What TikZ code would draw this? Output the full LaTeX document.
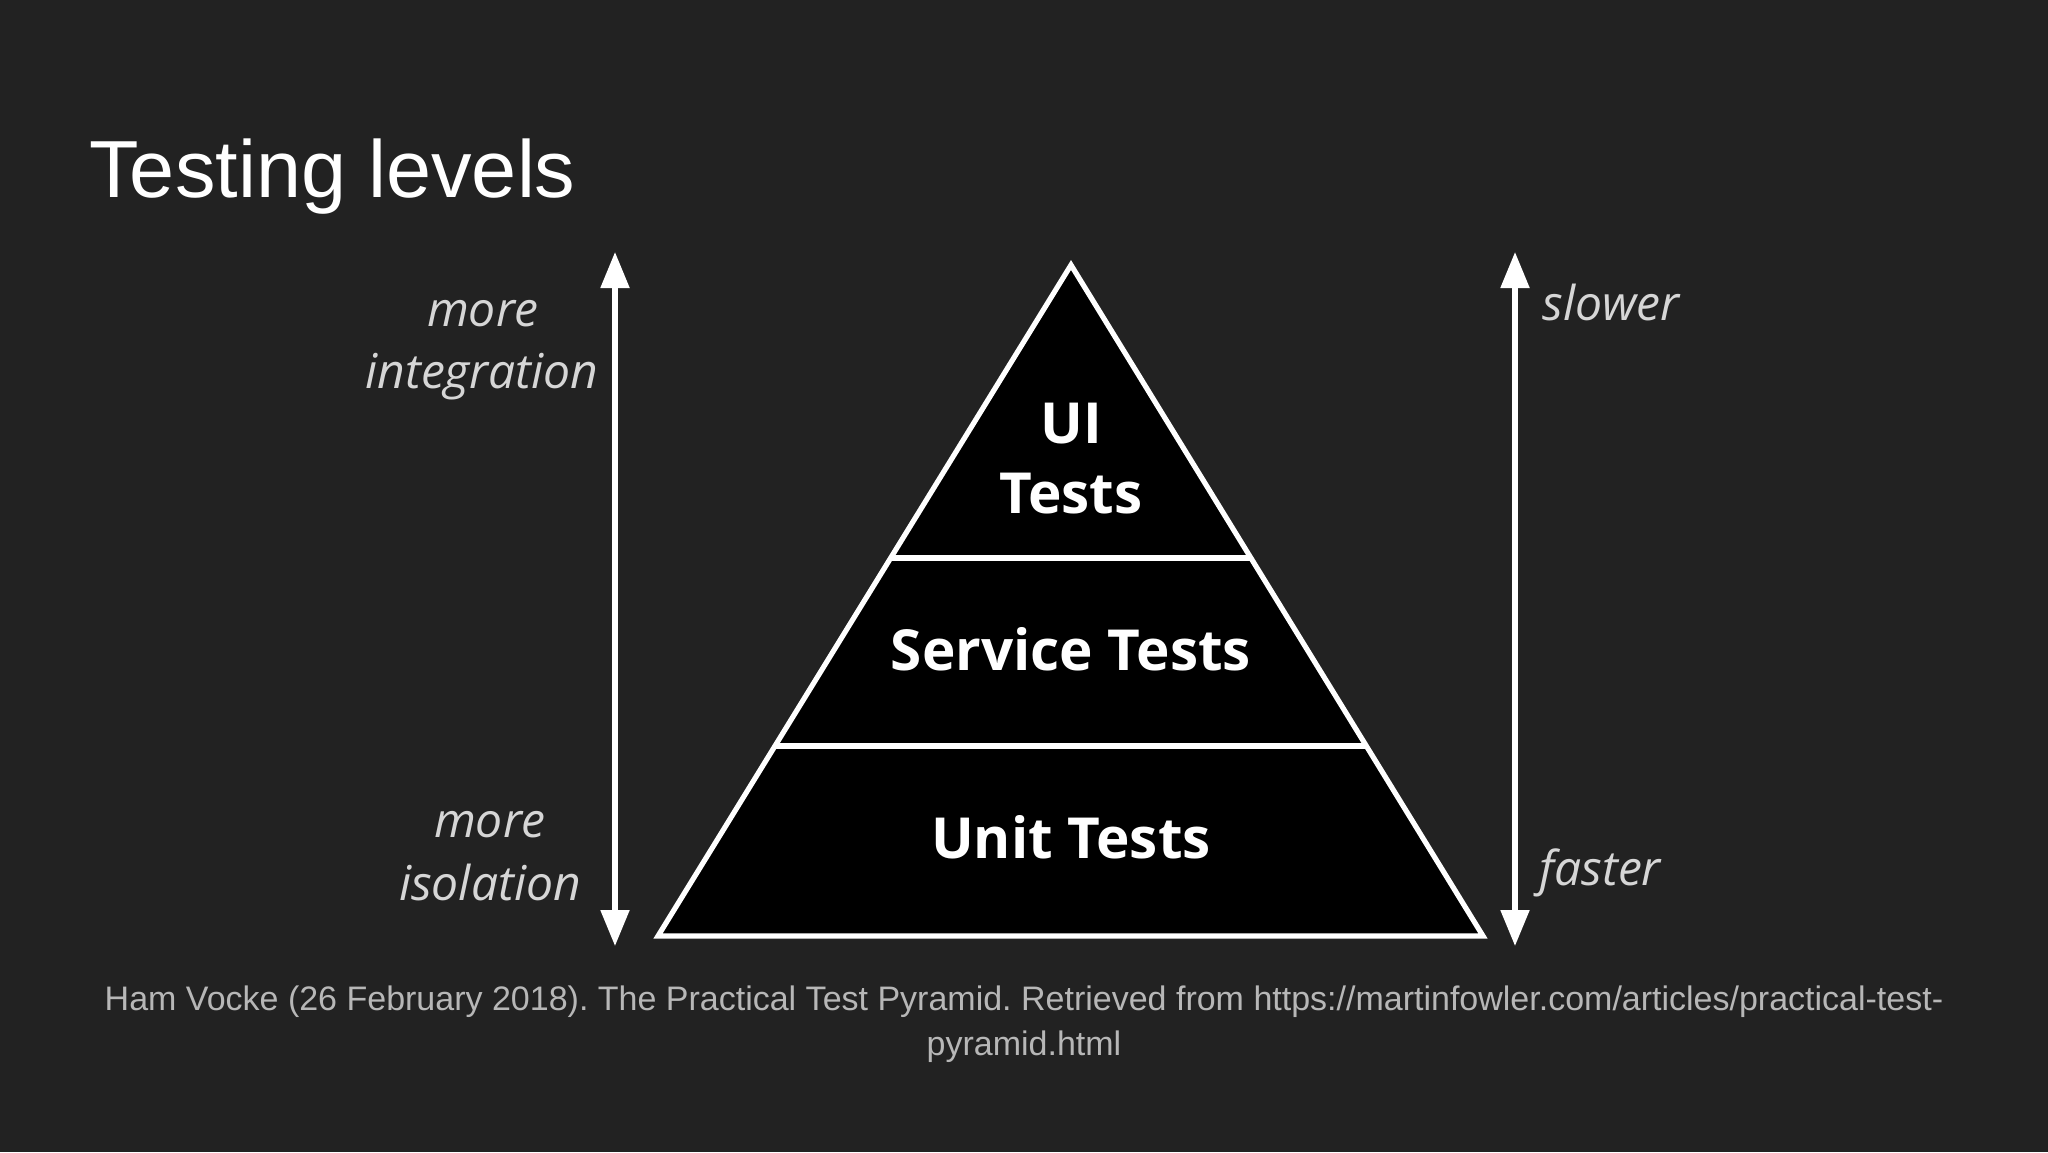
\documentclass[tikz,border=0pt]{standalone}
\usepackage{fontspec}
\setmainfont{Liberation Sans}
\newfontfamily\osans{Open Sans}
\usetikzlibrary{arrows.meta,calc}
\definecolor{bg}{HTML}{222222}
\definecolor{lbl}{HTML}{D6D6D6}
\definecolor{cap}{HTML}{B7B7B7}
\frenchspacing
\tikzset{
  pyrline/.style={draw=white, line width=2.6pt},
  pyrtext/.style={inner sep=0pt, anchor=base, text=white, font=\osans\bfseries\fontsize{28.3}{34}\selectfont},
  sidelbl/.style={inner sep=0pt, anchor=base, text=lbl, font=\osans\itshape\fontsize{24}{29}\selectfont},
  sidearrow/.style={draw=white, line width=2.6pt, {Triangle[width=14pt,length=18pt]}-{Triangle[width=14pt,length=18pt]}},
  captext/.style={inner sep=0pt, anchor=base, text=cap, font=\fontsize{17}{20}\selectfont}
}
\begin{document}
\begin{tikzpicture}[x=0.5pt,y=-0.5pt]
\useasboundingbox (0,0) rectangle (2048,1152);
\fill[bg] (0,0) rectangle (2048,1152);
\node[anchor=base west, inner sep=0pt, text=white, font=\fontsize{40.5}{48}\selectfont] (title) at (89,197) {Testing levels};
% pyramid
\coordinate (apex) at (1071,265);
\coordinate (bl) at (658,936);
\coordinate (br) at (1483,936);
\draw[pyrline, fill=black, line join=miter] (apex) -- (br) -- (bl) -- cycle;
\draw[pyrline] ($(apex)!0.4367!(bl)$) -- ($(apex)!0.4367!(br)$);
\draw[pyrline] ($(apex)!0.7168!(bl)$) -- ($(apex)!0.7168!(br)$);
\node[pyrtext] (ui) at (1071,443) {UI};
\node[pyrtext] (uitests) at (1071,513) {Tests};
\node[pyrtext] (service) at (1071,670) {Service Tests};
\node[pyrtext] (unit) at (1071,858) {Unit Tests};
% arrows
\coordinate (lt) at (615,252);
\coordinate (lb) at (615,946);
\coordinate (rt) at (1515,252);
\coordinate (rb) at (1515,946);
\draw[sidearrow] (lb) -- (lt);
\draw[sidearrow] (rb) -- (rt);
% side labels
\node[sidelbl] (more1) at (483,326) {more};
\node[sidelbl] (integ) at (482,388) {integration};
\node[sidelbl] (more2) at (490,837) {more};
\node[sidelbl] (iso) at (490,900) {isolation};
\node[sidelbl, anchor=base west] (slow) at (1542,320) {slower};
\node[sidelbl, anchor=base west] (fast) at (1539,885) {faster};
% caption
\node[captext] (cap1) at (1024,1010) {Ham Vocke (26 February 2018). The Practical Test Pyramid. Retrieved from https://martinfowler.com/articles/practical-test-};
\node[captext] (cap2) at (1024,1055) {pyramid.html};
\end{tikzpicture}
\end{document}
